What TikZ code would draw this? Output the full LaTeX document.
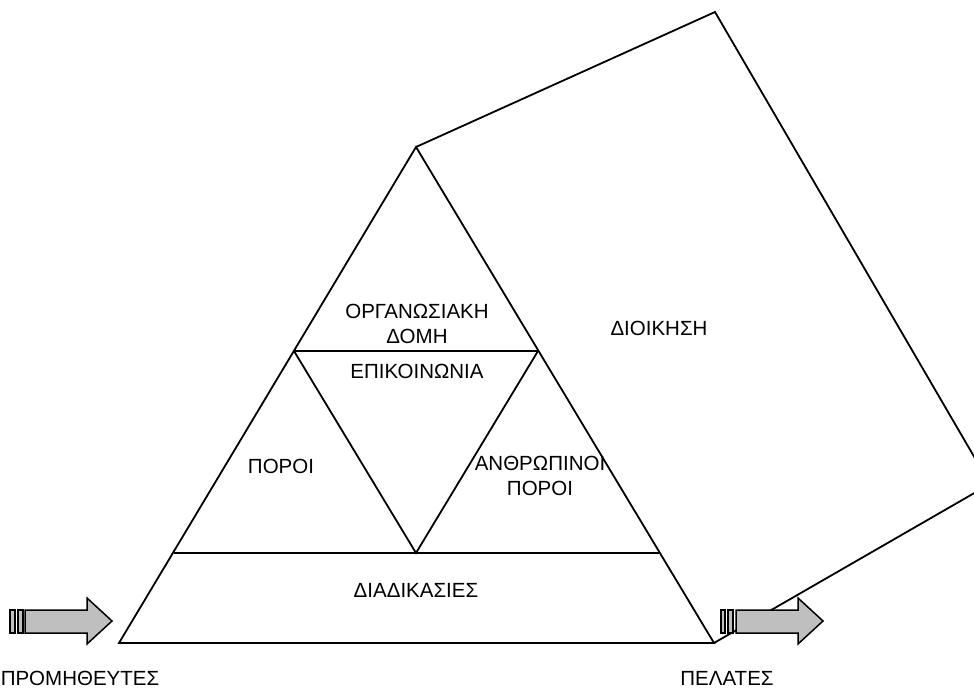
\documentclass[tikz,border=0pt]{standalone}
\usepackage{fontspec}
\setmainfont{Liberation Sans}
\begin{document}
\begin{tikzpicture}[x=1pt,y=-1pt,
  edge/.style={draw=black,line width=1.8pt,line join=miter},
  fat/.style={draw=black,fill=black!25,line width=1.5pt,line join=miter},
  lbl/.style={align=center,inner sep=0pt,font=\fontsize{20.5}{24.5}\selectfont}]
\path[use as bounding box] (0,0) rectangle (974,690);
\clip (0,0) rectangle (974,690);
% key points
\coordinate (A) at (416,147);
\coordinate (B) at (119,643);
\coordinate (C) at (714,643);
\coordinate (D) at (715,12);
\coordinate (E) at (990,484);
\coordinate (L1) at (294,351);
\coordinate (R1) at (538,351);
\coordinate (L2) at (174,553);
\coordinate (R2) at (659,553);
\coordinate (M2) at (416,553);
% prism side
\draw[edge] (A) -- (D) -- (E) -- (C);
% pyramid
\draw[edge] (A) -- (B) -- (C) -- cycle;
\draw[edge] (L1) -- (R1);
\draw[edge] (L2) -- (R2);
\draw[edge] (L1) -- (M2) -- (R1);
% labels
\node[lbl] (org) at (417,324) {ΟΡΓΑΝΩΣΙΑΚΗ\\ΔΟΜΗ};
\node[lbl] (epi) at (417,371) {ΕΠΙΚΟΙΝΩΝΙΑ};
\node[lbl] (por) at (281,466) {ΠΟΡΟΙ};
\node[lbl] (anth) at (540,476) {ΑΝΘΡΩΠΙΝΟΙ\\ΠΟΡΟΙ};
\node[lbl] (diad) at (416,590) {ΔΙΑΔΙΚΑΣΙΕΣ};
\node[lbl] (dioi) at (659,328) {ΔΙΟΙΚΗΣΗ};
\node[lbl] (prom) at (80,678) {ΠΡΟΜΗΘΕΥΤΕΣ};
\node[lbl] (pel) at (727,678) {ΠΕΛΑΤΕΣ};
% left arrow
\draw[fat] (10,610) rectangle (15,633);
\draw[fat] (18,610) rectangle (23,633);
\draw[fat] (25,610) -- (87,610) -- (87,598) -- (112,621) -- (87,644) -- (87,633) -- (25,633) -- cycle;
% right arrow
\draw[fat] (721,610) rectangle (725,633);
\draw[fat] (728,610) rectangle (733,633);
\draw[fat] (736,610) -- (798,610) -- (798,598) -- (823,621) -- (798,644) -- (798,633) -- (736,633) -- cycle;
\end{tikzpicture}
\end{document}
